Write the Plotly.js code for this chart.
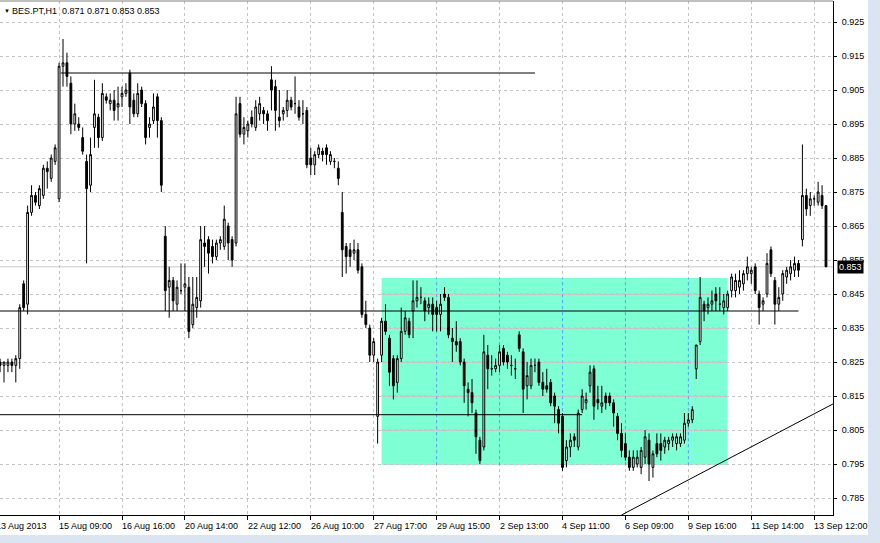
<!DOCTYPE html>
<html>
<head>
<meta charset="utf-8">
<script src="https://cdn.plot.ly/plotly-3.0.1.min.js"></script>
<style>
  html, body { margin: 0; padding: 0; background: #ffffff; }
  #chart { width: 880px; height: 543px; }
</style>
</head>
<body>
<div id="chart"></div>
<script>
// BES.PT hourly bars, 13 Aug 2013 12:00 .. 13 Sep 2013 15:00 (09:00-17:00 sessions)
const openP = [
  0.825, 0.824, 0.824, 0.825, 0.824, 0.826, 0.848, 0.842, 0.869, 0.874,
  0.871, 0.874, 0.882, 0.879, 0.884, 0.873, 0.912, 0.913, 0.907, 0.895,
  0.895, 0.891, 0.884, 0.877, 0.894, 0.897, 0.891, 0.903, 0.901, 0.902,
  0.900, 0.903, 0.904, 0.910, 0.902, 0.898, 0.905, 0.901, 0.894, 0.896,
  0.903, 0.896, 0.862, 0.847, 0.849, 0.842, 0.846, 0.847, 0.847, 0.836,
  0.841, 0.843, 0.860, 0.861, 0.859, 0.856, 0.860, 0.859, 0.865, 0.861,
  0.860, 0.901, 0.892, 0.893, 0.897, 0.894, 0.898, 0.899, 0.898, 0.908,
  0.906, 0.897, 0.898, 0.899, 0.902, 0.901, 0.900, 0.898, 0.899, 0.885,
  0.883, 0.886, 0.887, 0.888, 0.884, 0.884, 0.882, 0.869, 0.859, 0.858,
  0.857, 0.858, 0.853, 0.839, 0.835, 0.827, 0.809, 0.827, 0.837, 0.832,
  0.826, 0.819, 0.826, 0.834, 0.837, 0.840, 0.843, 0.844, 0.843, 0.841,
  0.842, 0.841, 0.839, 0.845, 0.844, 0.832, 0.831, 0.831, 0.825, 0.817,
  0.816, 0.810, 0.802, 0.800, 0.827, 0.823, 0.823, 0.824, 0.829, 0.827,
  0.824, 0.823, 0.833, 0.828, 0.818, 0.818, 0.824, 0.825, 0.819, 0.818,
  0.819, 0.815, 0.811, 0.809, 0.796, 0.800, 0.803, 0.800, 0.811, 0.813,
  0.818, 0.823, 0.814, 0.812, 0.815, 0.815, 0.813, 0.809, 0.804, 0.801,
  0.797, 0.794, 0.795, 0.794, 0.797, 0.802, 0.794, 0.801, 0.801, 0.800,
  0.801, 0.802, 0.801, 0.801, 0.802, 0.807, 0.808, 0.823, 0.831, 0.842,
  0.841, 0.842, 0.845, 0.842, 0.841, 0.841, 0.846, 0.846, 0.847, 0.848,
  0.851, 0.851, 0.853, 0.845, 0.842, 0.845, 0.858, 0.849, 0.842, 0.845,
  0.850, 0.851, 0.852, 0.854, 0.861, 0.874, 0.871, 0.873, 0.872, 0.874,
  0.871
];
const highP = [
  0.826, 0.825, 0.826, 0.826, 0.827, 0.842, 0.849, 0.871, 0.877, 0.875,
  0.877, 0.883, 0.884, 0.886, 0.889, 0.913, 0.920, 0.916, 0.909, 0.901,
  0.897, 0.894, 0.886, 0.891, 0.908, 0.898, 0.907, 0.904, 0.904, 0.905,
  0.906, 0.906, 0.907, 0.911, 0.904, 0.907, 0.906, 0.902, 0.897, 0.904,
  0.904, 0.897, 0.865, 0.853, 0.850, 0.849, 0.854, 0.854, 0.850, 0.850,
  0.850, 0.865, 0.865, 0.862, 0.861, 0.861, 0.862, 0.871, 0.866, 0.862,
  0.903, 0.903, 0.897, 0.896, 0.899, 0.902, 0.903, 0.900, 0.899, 0.912,
  0.908, 0.905, 0.900, 0.905, 0.903, 0.909, 0.902, 0.902, 0.900, 0.888,
  0.887, 0.889, 0.888, 0.889, 0.887, 0.885, 0.884, 0.875, 0.860, 0.860,
  0.861, 0.860, 0.854, 0.843, 0.836, 0.832, 0.826, 0.838, 0.842, 0.833,
  0.827, 0.827, 0.841, 0.840, 0.838, 0.849, 0.849, 0.847, 0.844, 0.844,
  0.844, 0.843, 0.845, 0.847, 0.845, 0.835, 0.837, 0.832, 0.826, 0.819,
  0.820, 0.811, 0.803, 0.833, 0.830, 0.827, 0.826, 0.830, 0.830, 0.828,
  0.827, 0.826, 0.834, 0.829, 0.825, 0.826, 0.826, 0.826, 0.822, 0.823,
  0.820, 0.816, 0.812, 0.810, 0.802, 0.804, 0.804, 0.811, 0.817, 0.816,
  0.824, 0.824, 0.818, 0.818, 0.816, 0.816, 0.814, 0.810, 0.807, 0.804,
  0.799, 0.799, 0.799, 0.800, 0.805, 0.804, 0.799, 0.804, 0.804, 0.803,
  0.803, 0.804, 0.804, 0.804, 0.810, 0.810, 0.812, 0.830, 0.850, 0.843,
  0.844, 0.846, 0.847, 0.847, 0.845, 0.846, 0.851, 0.851, 0.852, 0.852,
  0.856, 0.853, 0.854, 0.846, 0.844, 0.857, 0.859, 0.850, 0.847, 0.852,
  0.853, 0.855, 0.856, 0.855, 0.889, 0.876, 0.875, 0.874, 0.878, 0.877,
  0.871
];
const lowP = [
  0.822, 0.819, 0.822, 0.822, 0.819, 0.823, 0.840, 0.839, 0.868, 0.871,
  0.870, 0.873, 0.876, 0.878, 0.883, 0.872, 0.906, 0.906, 0.892, 0.893,
  0.893, 0.886, 0.854, 0.875, 0.888, 0.888, 0.890, 0.901, 0.899, 0.896,
  0.896, 0.900, 0.903, 0.895, 0.897, 0.897, 0.900, 0.889, 0.891, 0.895,
  0.891, 0.875, 0.840, 0.838, 0.840, 0.840, 0.845, 0.840, 0.832, 0.835,
  0.838, 0.841, 0.853, 0.851, 0.854, 0.855, 0.858, 0.858, 0.855, 0.853,
  0.859, 0.891, 0.889, 0.891, 0.894, 0.893, 0.896, 0.895, 0.893, 0.899,
  0.893, 0.894, 0.896, 0.897, 0.899, 0.898, 0.896, 0.895, 0.882, 0.880,
  0.880, 0.885, 0.884, 0.883, 0.883, 0.882, 0.877, 0.850, 0.851, 0.853,
  0.855, 0.851, 0.838, 0.835, 0.825, 0.825, 0.801, 0.825, 0.833, 0.818,
  0.814, 0.816, 0.825, 0.833, 0.832, 0.832, 0.841, 0.842, 0.837, 0.839,
  0.834, 0.834, 0.834, 0.843, 0.832, 0.825, 0.828, 0.824, 0.813, 0.809,
  0.810, 0.798, 0.795, 0.799, 0.817, 0.821, 0.822, 0.822, 0.824, 0.823,
  0.821, 0.820, 0.828, 0.810, 0.814, 0.817, 0.822, 0.818, 0.815, 0.816,
  0.812, 0.807, 0.804, 0.793, 0.794, 0.797, 0.800, 0.799, 0.810, 0.811,
  0.816, 0.808, 0.811, 0.810, 0.811, 0.812, 0.806, 0.802, 0.797, 0.796,
  0.793, 0.793, 0.794, 0.792, 0.795, 0.790, 0.791, 0.797, 0.796, 0.798,
  0.799, 0.800, 0.799, 0.800, 0.801, 0.806, 0.807, 0.820, 0.830, 0.837,
  0.839, 0.840, 0.840, 0.840, 0.839, 0.840, 0.844, 0.844, 0.845, 0.846,
  0.849, 0.848, 0.845, 0.836, 0.840, 0.844, 0.850, 0.836, 0.840, 0.843,
  0.848, 0.849, 0.850, 0.850, 0.859, 0.868, 0.868, 0.871, 0.871, 0.870,
  0.853
];
const closeP = [
  0.824, 0.825, 0.825, 0.824, 0.826, 0.841, 0.841, 0.869, 0.874, 0.872,
  0.876, 0.882, 0.881, 0.885, 0.888, 0.912, 0.913, 0.909, 0.895, 0.898,
  0.894, 0.887, 0.876, 0.886, 0.898, 0.891, 0.904, 0.902, 0.902, 0.899,
  0.901, 0.904, 0.905, 0.900, 0.898, 0.904, 0.901, 0.891, 0.895, 0.900,
  0.896, 0.877, 0.846, 0.849, 0.843, 0.847, 0.846, 0.848, 0.834, 0.842,
  0.844, 0.861, 0.859, 0.857, 0.856, 0.860, 0.861, 0.867, 0.860, 0.855,
  0.898, 0.892, 0.894, 0.895, 0.895, 0.900, 0.901, 0.898, 0.896, 0.905,
  0.899, 0.896, 0.899, 0.902, 0.900, 0.901, 0.897, 0.898, 0.883, 0.883,
  0.886, 0.888, 0.886, 0.886, 0.886, 0.884, 0.879, 0.858, 0.856, 0.856,
  0.858, 0.852, 0.839, 0.836, 0.827, 0.831, 0.825, 0.837, 0.834, 0.822,
  0.818, 0.826, 0.834, 0.838, 0.833, 0.843, 0.844, 0.844, 0.840, 0.842,
  0.839, 0.839, 0.842, 0.844, 0.833, 0.831, 0.830, 0.825, 0.818, 0.816,
  0.813, 0.803, 0.796, 0.828, 0.823, 0.823, 0.824, 0.828, 0.825, 0.825,
  0.824, 0.823, 0.829, 0.817, 0.821, 0.824, 0.824, 0.819, 0.817, 0.817,
  0.813, 0.812, 0.807, 0.794, 0.800, 0.802, 0.802, 0.810, 0.815, 0.814,
  0.822, 0.812, 0.813, 0.813, 0.813, 0.813, 0.810, 0.804, 0.799, 0.797,
  0.794, 0.797, 0.797, 0.799, 0.803, 0.795, 0.798, 0.798, 0.799, 0.802,
  0.802, 0.803, 0.803, 0.803, 0.807, 0.808, 0.811, 0.830, 0.844, 0.840,
  0.842, 0.843, 0.843, 0.842, 0.843, 0.845, 0.850, 0.849, 0.849, 0.851,
  0.853, 0.852, 0.846, 0.841, 0.843, 0.854, 0.851, 0.842, 0.844, 0.851,
  0.852, 0.853, 0.854, 0.852, 0.874, 0.870, 0.873, 0.873, 0.875, 0.871,
  0.853
];

// Time-axis labels and the bar each one sits on
const tickBars = [-1, 15, 31, 47, 63, 79, 95, 111, 127, 143, 159, 175, 191, 207];
const tickLabels = [
  '13 Aug 2013', '15 Aug 09:00', '16 Aug 16:00', '20 Aug 14:00', '22 Aug 12:00',
  '26 Aug 10:00', '27 Aug 17:00', '29 Aug 15:00', '2 Sep 13:00', '4 Sep 11:00',
  '6 Sep 09:00', '9 Sep 16:00', '11 Sep 14:00', '13 Sep 12:00'
];
const priceTicks = [0.785, 0.795, 0.805, 0.815, 0.825, 0.835, 0.845, 0.855,
                    0.865, 0.875, 0.885, 0.895, 0.905, 0.915, 0.925];

// Drawn objects: levels, zone and trend line
const topLevel = { price: 0.910, from: 15.4, to: 136 };
const midLevel = { price: 0.840, from: -3, to: 203 };
const lowLevel = { price: 0.8095, from: -3, to: 148 };
const zone = { from: 97, to: 185, low: 0.7947, high: 0.8497 };
const trend = { bar0: 158, price0: 0.780, bar1: 212, price1: 0.8128 };
const lastPrice = 0.853;

const symbolLine = 'BES.PT,H1  0.871 0.871 0.853 0.853';

const bars = openP.map((_, i) => i);
const xRange = [-0.02, 211.78];
const yRange = [0.7800, 0.93118];
const FONT = "'Liberation Sans', Arial, sans-serif";
const GRID = '#c4c4c4';

const candles = {
  type: 'candlestick',
  x: bars, open: openP, high: highP, low: lowP, close: closeP,
  increasing: { line: { color: '#000000', width: 1 }, fillcolor: '#ffffff' },
  decreasing: { line: { color: '#000000', width: 1 }, fillcolor: '#000000' },
  whiskerwidth: 0,
  hoverinfo: 'skip',
  showlegend: false
};

const shapes = [];
// zone fill, under the grid
shapes.push({ type: 'rect', layer: 'below', xref: 'x', yref: 'y',
  x0: zone.from, x1: zone.to, y0: zone.low, y1: zone.high,
  fillcolor: '#7fffd4', line: { width: 0 } });
// grid inside the zone shows tinted
tickBars.filter(b => b > zone.from && b < zone.to).forEach(b => {
  shapes.push({ type: 'line', layer: 'between', xref: 'x', yref: 'y',
    x0: b, x1: b, y0: zone.low, y1: zone.high,
    line: { color: '#56a6f2', width: 1, dash: '3px,3px' } });
});
priceTicks.filter(p => p > zone.low + 0.001 && p < zone.high).forEach(p => {
  shapes.push({ type: 'line', layer: 'between', xref: 'x', yref: 'y',
    x0: zone.from, x1: zone.to, y0: p, y1: p,
    line: { color: '#e4a2bc', width: 1, dash: '3px,3px' } });
});
// last price line
shapes.push({ type: 'line', layer: 'between', xref: 'paper', yref: 'y',
  x0: 0, x1: 1, y0: lastPrice, y1: lastPrice,
  line: { color: '#c8c8c8', width: 1 } });
// horizontal levels
[topLevel, midLevel, lowLevel].forEach(l => {
  shapes.push({ type: 'line', layer: 'above', xref: 'x', yref: 'y',
    x0: l.from, x1: l.to, y0: l.price, y1: l.price,
    line: { color: '#000000', width: 1 } });
});
// trend line
shapes.push({ type: 'line', layer: 'above', xref: 'x', yref: 'y',
  x0: trend.bar0, x1: trend.bar1, y0: trend.price0, y1: trend.price1,
  line: { color: '#000000', width: 1 } });
// window frame around the chart
shapes.push({ type: 'rect', layer: 'below', xref: 'paper', yref: 'paper',
  x0: 868 / 833, x1: 1.08, y0: -0.08, y1: 1.01,
  fillcolor: '#dbe5f2', line: { width: 0 } });
shapes.push({ type: 'rect', layer: 'below', xref: 'paper', yref: 'paper',
  x0: -0.01, x1: 1.08, y0: -0.08, y1: -(535 - 515) / 514,
  fillcolor: '#dbe5f2', line: { width: 0 } });
shapes.push({ type: 'line', layer: 'above', xref: 'paper', yref: 'paper',
  x0: 0, x1: 1, y0: 1, y1: 1, line: { color: '#808080', width: 1 } });

const annotations = [];
const toPaper = b => (b - xRange[0]) / (xRange[1] - xRange[0]);
tickBars.forEach((b, k) => {
  annotations.push({ xref: 'paper', yref: 'paper', x: toPaper(b), y: -(526 - 515) / 514,
    xanchor: 'left', yanchor: 'middle', xshift: -2, showarrow: false,
    text: tickLabels[k], font: { family: FONT, size: 9, color: '#000000' } });
});
annotations.push({ xref: 'paper', yref: 'y', x: 1, y: lastPrice, xanchor: 'left',
  yanchor: 'middle', xshift: 4, showarrow: false, text: lastPrice.toFixed(3),
  bgcolor: '#000000', borderpad: 1, font: { family: FONT, size: 9, color: '#ffffff' } });
annotations.push({ xref: 'paper', yref: 'paper', x: 2 / 833, y: 1 - 10 / 514,
  xanchor: 'left', yanchor: 'middle', showarrow: false, text: '▼',
  font: { family: FONT, size: 6, color: '#000000' } });
annotations.push({ xref: 'paper', yref: 'paper', x: 10 / 833, y: 1 - 10 / 514,
  xanchor: 'left', yanchor: 'middle', showarrow: false, text: symbolLine,
  font: { family: FONT, size: 9, color: '#000000' } });

const layout = {
  width: 880, height: 543,
  margin: { l: 0, r: 47, t: 1, b: 28, pad: 0 },
  paper_bgcolor: '#ffffff', plot_bgcolor: '#ffffff',
  showlegend: false,
  boxgap: 0.35,
  font: { family: FONT, size: 9, color: '#000000' },
  xaxis: {
    range: xRange, type: 'linear', rangeslider: { visible: false },
    tickmode: 'array', tickvals: tickBars, showticklabels: false,
    ticks: 'outside', ticklen: 4, tickwidth: 1, tickcolor: '#000000',
    showgrid: true, gridcolor: GRID, griddash: '3px,3px', gridwidth: 1,
    showline: true, linecolor: '#000000', linewidth: 1, zeroline: false, fixedrange: true
  },
  yaxis: {
    range: yRange, side: 'right',
    tickmode: 'array', tickvals: priceTicks, tickformat: '.3f',
    ticks: 'outside', ticklen: 3, tickwidth: 1, tickcolor: '#000000', ticklabelstandoff: 3,
    tickfont: { family: FONT, size: 9, color: '#000000' },
    showgrid: true, gridcolor: GRID, griddash: '3px,3px', gridwidth: 1,
    showline: true, linecolor: '#000000', linewidth: 1, zeroline: false, fixedrange: true
  },
  shapes: shapes,
  annotations: annotations
};

Plotly.newPlot('chart', [candles], layout, { staticPlot: true, displayModeBar: false });
</script>
</body>
</html>
